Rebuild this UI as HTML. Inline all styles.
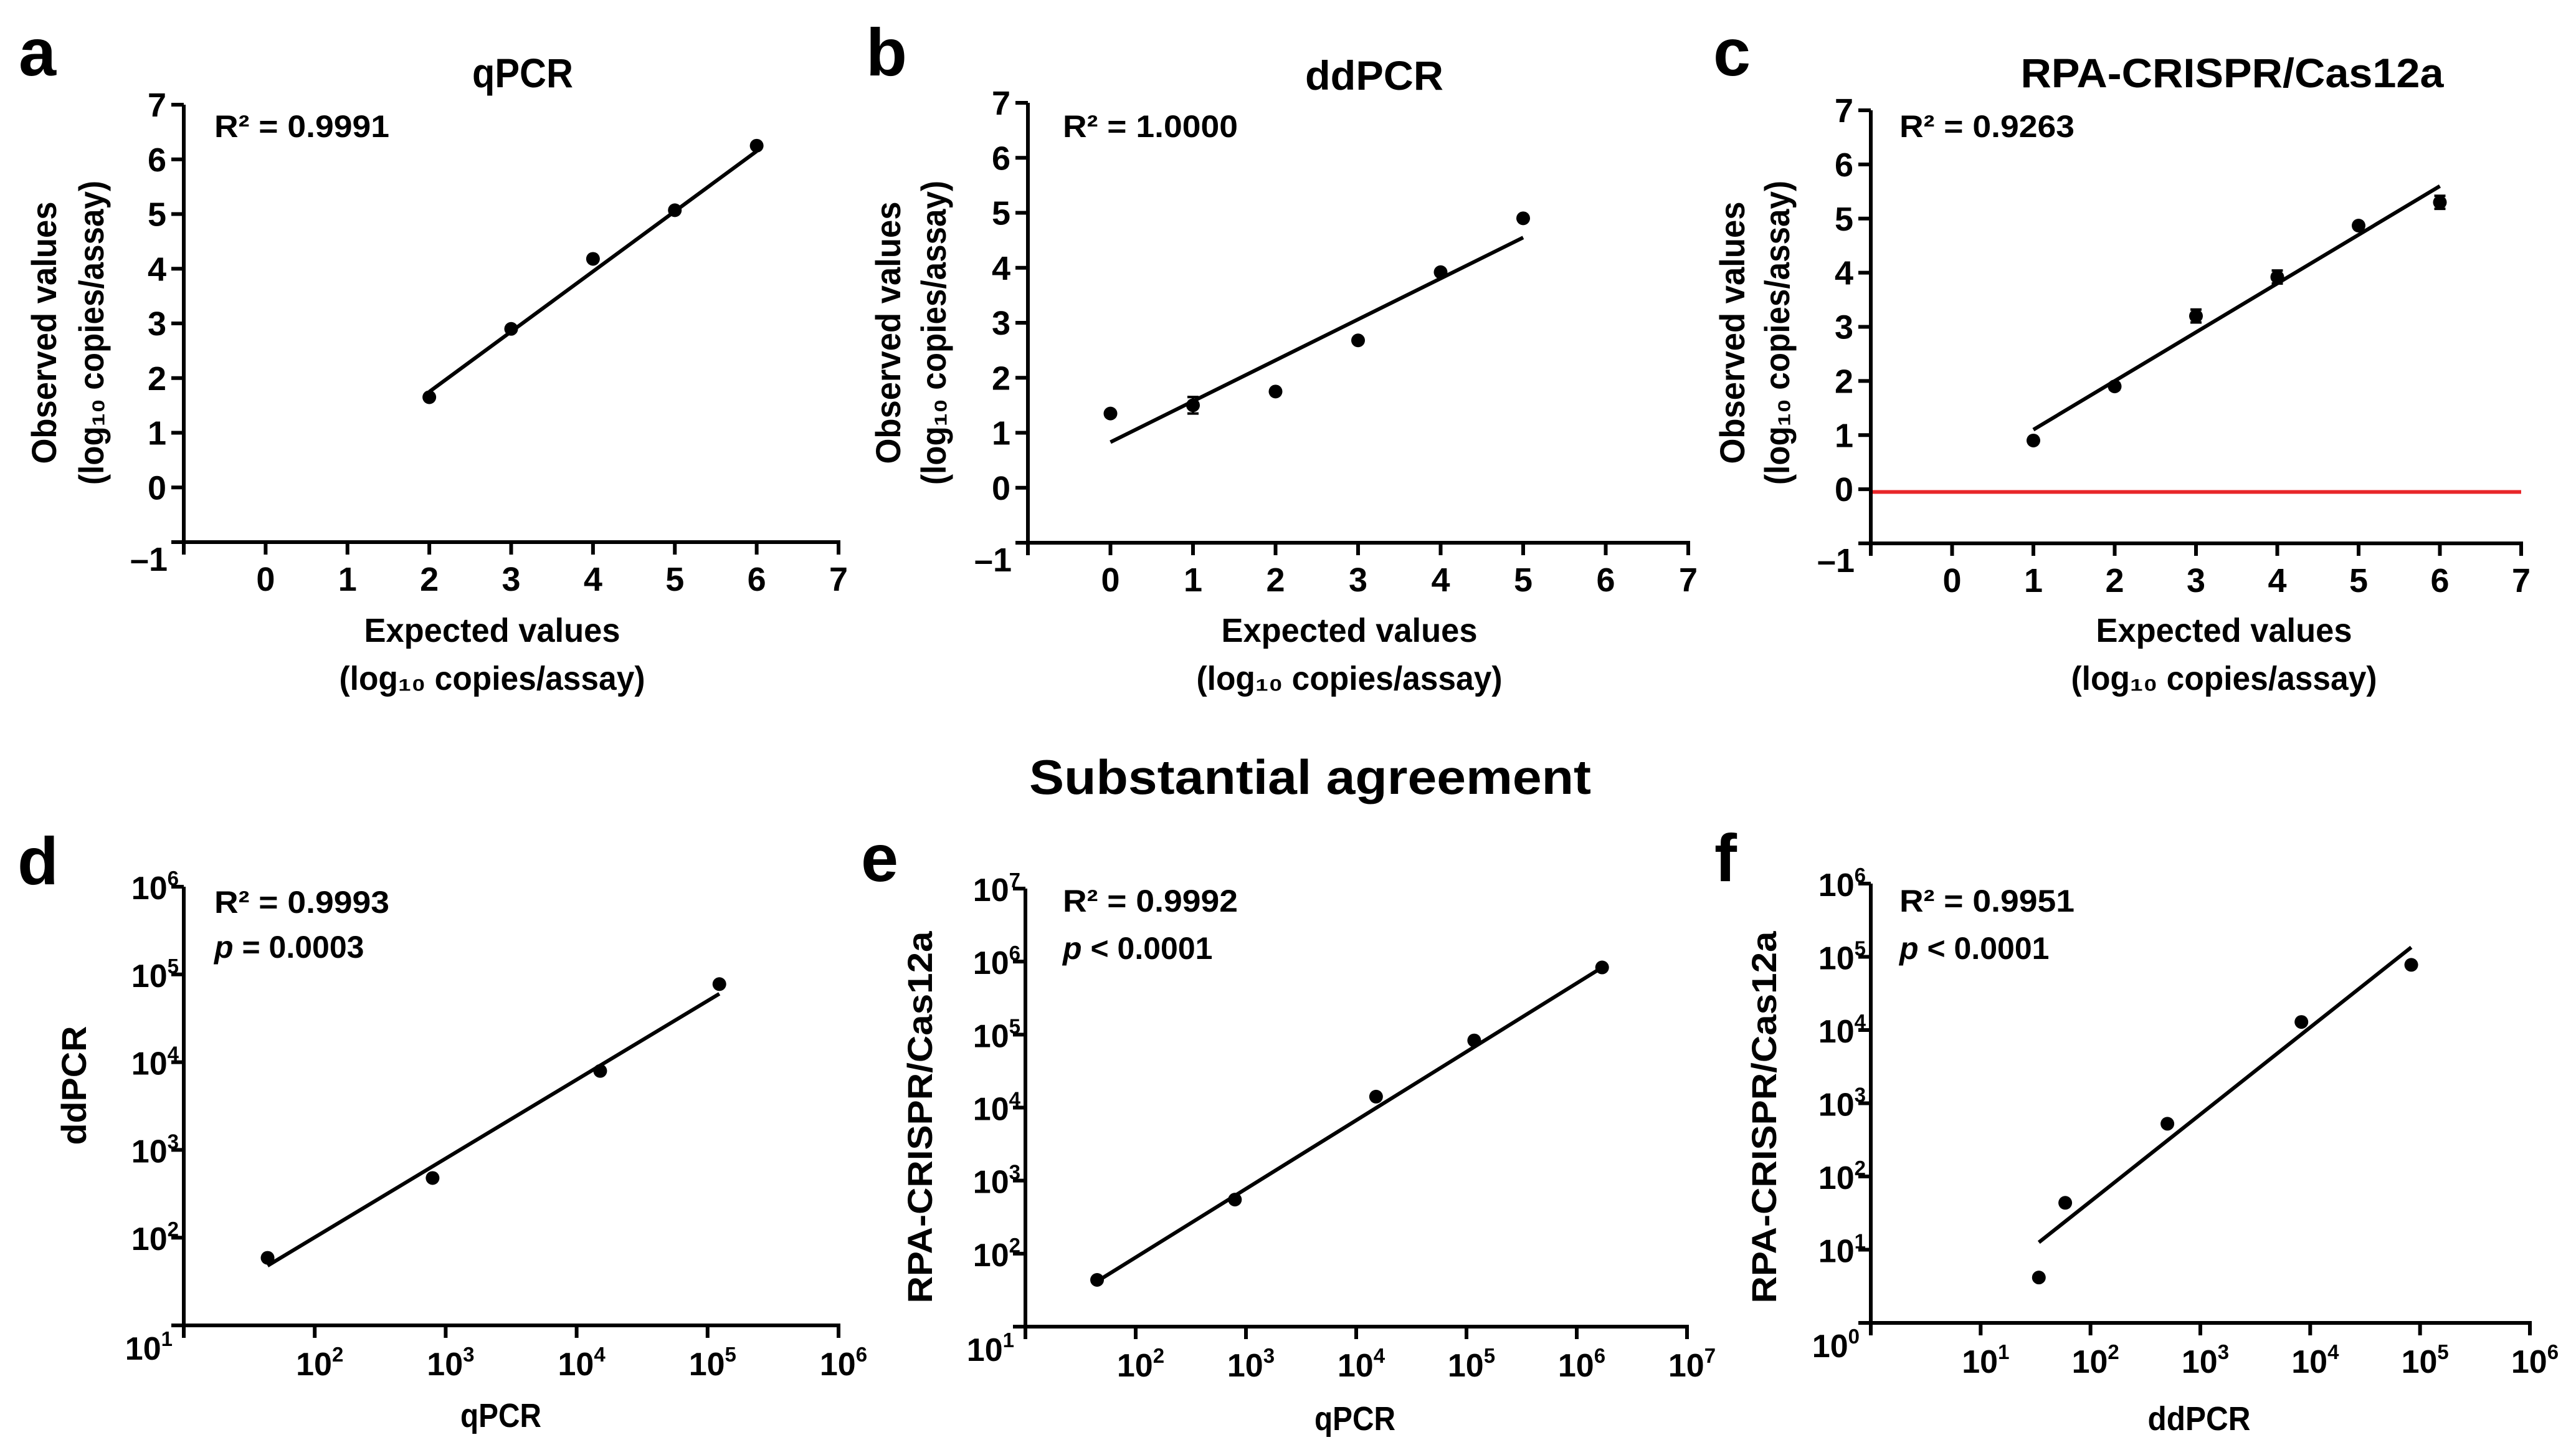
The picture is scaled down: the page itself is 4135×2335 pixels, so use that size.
<!DOCTYPE html>
<html><head><meta charset="utf-8"><style>
html,body{margin:0;padding:0;background:#fff;overflow:hidden;}
svg{display:block;font-family:"Liberation Sans",Arial,sans-serif;font-weight:bold;}
</style></head><body>
<svg id="fig" width="4135" height="2335" viewBox="0 0 4135 2335" xmlns="http://www.w3.org/2000/svg">
<rect width="4135" height="2335" fill="#fff"/>
<g id="static" fill="#000">
<text x="30" y="121" font-size="108">a</text>
<text x="1390" y="121" font-size="108">b</text>
<text x="2750" y="121" font-size="108">c</text>
<text x="28" y="1419" font-size="108">d</text>
<text x="1382" y="1414" font-size="108">e</text>
<text x="2752" y="1414" font-size="108">f</text>
<text x="2103" y="1274" font-size="78" text-anchor="middle" textLength="902" lengthAdjust="spacingAndGlyphs">Substantial agreement</text>
</g>
<g id="charts"></g>
</svg>
<script>
// ---- data ----
const aX = [2, 3, 4, 5, 6];
const aY = [1.65, 2.9, 4.18, 5.07, 6.25];
const aFitX = [2, 6];
const aFitY = [1.75, 6.15];

const bX = [0, 1, 2, 3, 4, 5];
const bY = [1.35, 1.5, 1.75, 2.68, 3.92, 4.9];
const bErr = [0, 0.15, 0, 0, 0.05, 0];
const bFitX = [0, 5];
const bFitY = [0.83, 4.55];

const cX = [1, 2, 3, 4, 5, 6];
const cY = [0.9, 1.9, 3.2, 3.92, 4.87, 5.3];
const cErr = [0, 0.06, 0.12, 0.12, 0.05, 0.12];
const cFitX = [1, 6];
const cFitY = [1.1, 5.6];
const cThreshold = [-0.05];

const dX = [1.64, 2.9, 4.18, 5.09];
const dY = [1.77, 2.68, 3.9, 4.89];
const dFitX = [1.64, 5.09];
const dFitY = [1.68, 4.78];

const eX = [1.65, 2.9, 4.18, 5.07, 6.23];
const eY = [1.64, 2.74, 4.15, 4.92, 5.92];
const eFitX = [1.65, 6.23];
const eFitY = [1.62, 5.92];

const fX = [1.53, 1.77, 2.70, 3.92, 4.92];
const fY = [0.62, 1.64, 2.72, 4.11, 4.89];
const fFitX = [1.53, 4.92];
const fFitY = [1.1, 5.13];

const linTicks = [-1, 0, 1, 2, 3, 4, 5, 6, 7];
const dTicks = [1, 2, 3, 4, 5, 6];
const eTicks = [1, 2, 3, 4, 5, 6, 7];
const fTicks = [0, 1, 2, 3, 4, 5, 6];

const statsA = ["R² = 0.9991"];
const statsB = ["R² = 1.0000"];
const statsC = ["R² = 0.9263"];
const statsD = ["R² = 0.9993", "= 0.0003"];
const statsE = ["R² = 0.9992", "< 0.0001"];
const statsF = ["R² = 0.9951", "< 0.0001"];

const NS = "http://www.w3.org/2000/svg";
const root = document.getElementById("charts");
function mk(tag, attrs, parent) {
  const el = document.createElementNS(NS, tag);
  for (const k in attrs) el.setAttribute(k, attrs[k]);
  (parent || root).appendChild(el);
  return el;
}
function powLabel(parent, attrs, exp) {
  const t = mk("text", attrs, parent);
  const a = mk("tspan", {}, t);
  a.textContent = "10";
  const b = mk("tspan", {"font-size": 33, dy: -22}, t);
  b.textContent = String(exp);
  return t;
}

function panel(cfg) {
  const g = mk("g", {});
  
  
  const sx = v => cfg.x0 + (v - cfg.min) / (cfg.max - cfg.min) * (cfg.x1 - cfg.x0);
  const sy = v => cfg.yBot - (v - cfg.min) / (cfg.max - cfg.min) * (cfg.yBot - cfg.yTop);
  const T = 20, SW = 6;
  const ya = mk("line", {x1: cfg.x0, y1: cfg.yTop, x2: cfg.x0, y2: cfg.yBot + T, stroke: "#000", "stroke-width": SW}, g);
  
  
  const xa = mk("line", {x1: cfg.x0 - T, y1: cfg.yBot, x2: cfg.x1 + SW / 2, y2: cfg.yBot, stroke: "#000", "stroke-width": SW}, g);
  
  
  cfg.ticks.forEach((t, i) => {
    if (i > 0) {
      const tk = mk("line", {x1: cfg.x0 - T, y1: sy(t), x2: cfg.x0, y2: sy(t), stroke: "#000", "stroke-width": SW}, g);
      
      
      const tk2 = mk("line", {x1: sx(t), y1: cfg.yBot, x2: sx(t), y2: cfg.yBot + T, stroke: "#000", "stroke-width": SW}, g);
      
      
    }
    if (!cfg.log) {
      if (i === 0) {
        const c = mk("text", {x: cfg.x0 - 26, y: cfg.yBot + 46, "font-size": 54, "text-anchor": "end"}, g);
        c.textContent = "–1";
        
        
      } else {
        const yl = mk("text", {x: cfg.x0 - 28, y: sy(t) + 19, "font-size": 54, "text-anchor": "end"}, g);
        yl.textContent = String(t);
        
        
        const xl = mk("text", {x: sx(t), y: cfg.yBot + 78, "font-size": 54, "text-anchor": "middle"}, g);
        xl.textContent = String(t);
        
        
      }
    } else {
      if (i === 0) {
        const c = powLabel(g, {x: cfg.x0 - 18, y: cfg.yBot + 55, "font-size": 52, "text-anchor": "end"}, t);
        
        
      } else {
        const yl = powLabel(g, {x: cfg.x0 - 8, y: sy(t) + 20, "font-size": 52, "text-anchor": "end"}, t);
        
        
        const xl = powLabel(g, {x: sx(t) + 8, y: cfg.yBot + 80, "font-size": 52, "text-anchor": "middle"}, t);
        
        
      }
    }
  });
  if (cfg.thr) {
    const r = mk("line", {x1: cfg.x0 + 3, y1: sy(cfg.thr[0]), x2: cfg.x1, y2: sy(cfg.thr[0]), stroke: "#e8262a", "stroke-width": 6}, g);
    
    
  }
  const fl = mk("line", {x1: sx(cfg.fx[0]), y1: sy(cfg.fy[0]), x2: sx(cfg.fx[1]), y2: sy(cfg.fy[1]), stroke: "#000", "stroke-width": 6}, g);
  
  
  cfg.xs.forEach((x, i) => {
    if (cfg.err && cfg.err[i] > 0) {
      const e = cfg.err[i];
      const eb = mk("path", {d: `M${sx(x)},${sy(cfg.ys[i] - e)}V${sy(cfg.ys[i] + e)}M${sx(x) - 9},${sy(cfg.ys[i] - e)}h18M${sx(x) - 9},${sy(cfg.ys[i] + e)}h18`, stroke: "#000", "stroke-width": 4, fill: "none"}, g);
      
      
    }
    const p = mk("circle", {cx: sx(x), cy: sy(cfg.ys[i]), r: 11, fill: "#000"}, g);
    
    
  });
  const s1 = mk("text", {x: cfg.sx, y: cfg.sy, "font-size": 50, textLength: 281, lengthAdjust: "spacingAndGlyphs"}, g);
  s1.textContent = cfg.stats[0];
  
  
  if (cfg.stats.length > 1) {
    const s2 = mk("text", {x: cfg.sx, y: cfg.py, "font-size": 50}, g);
    
    
    const it = mk("tspan", {"font-style": "italic"}, s2);
    it.textContent = "p";
    const rest = mk("tspan", {}, s2);
    rest.textContent = " " + cfg.stats[1];
  }
  if (cfg.title) {
    const t = mk("text", {x: cfg.title[1], y: cfg.title[3], "font-size": 66, "text-anchor": "middle", textLength: cfg.title[2], lengthAdjust: "spacingAndGlyphs"}, g);
    t.textContent = cfg.title[0];
    
    
  }
  cfg.xt.forEach(l => {
    const t = mk("text", {x: l[1], y: l[2], "font-size": 54, "text-anchor": "middle", textLength: l[3], lengthAdjust: "spacingAndGlyphs"}, g);
    t.textContent = l[0];
    
    
  });
  cfg.yt.forEach(l => {
    const t = mk("text", {x: 0, y: 0, "font-size": 56, "text-anchor": "middle", textLength: l[3], lengthAdjust: "spacingAndGlyphs", transform: `translate(${l[1]},${l[2]}) rotate(-90)`}, g);
    t.textContent = l[0];
    
    
  });
}

const yLin = (bx1, bx2) => [["Observed values", bx1, 534, 421], ["(log₁₀ copies/assay)", bx2, 534, 488]];
const xLin = cx => [["Expected values", cx, 1030, 411], ["(log₁₀ copies/assay)", cx, 1107, 491]];

panel({name: "panel-a-qpcr", x0: 295, x1: 1346, yTop: 168, yBot: 870, min: -1, max: 7, ticks: linTicks,
  xs: aX, ys: aY, fx: aFitX, fy: aFitY, stats: statsA, sx: 344, sy: 220,
  title: ["qPCR", 839, 162, 140], xt: xLin(790), yt: yLin(90, 166)});
panel({name: "panel-b-ddpcr", x0: 1650, x1: 2710, yTop: 165, yBot: 871, min: -1, max: 7, ticks: linTicks,
  xs: bX, ys: bY, err: bErr, fx: bFitX, fy: bFitY, stats: statsB, sx: 1706, sy: 220,
  title: ["ddPCR", 2206, 222, 144], xt: xLin(2166), yt: yLin(1445, 1518)});
panel({name: "panel-c-rpa-crispr", x0: 3003, x1: 4047, yTop: 177, yBot: 872, min: -1, max: 7, ticks: linTicks,
  xs: cX, ys: cY, err: cErr, fx: cFitX, fy: cFitY, thr: cThreshold, stats: statsC, sx: 3049, sy: 220,
  title: ["RPA-CRISPR/Cas12a", 3583, 679, 140], xt: xLin(3570), yt: yLin(2800, 2872)});
panel({name: "panel-d-ddpcr-vs-qpcr", log: true, x0: 295, x1: 1346, yTop: 1423, yBot: 2127, min: 1, max: 6, ticks: dTicks,
  xs: dX, ys: dY, fx: dFitX, fy: dFitY, stats: statsD, sx: 344, sy: 1465, py: 1537,
  xt: [["qPCR", 804, 2290, 130]], yt: [["ddPCR", 138, 1742, 191]]});
panel({name: "panel-e-rpa-vs-qpcr", log: true, x0: 1646, x1: 2708, yTop: 1426, yBot: 2129, min: 1, max: 7, ticks: eTicks,
  xs: eX, ys: eY, fx: eFitX, fy: eFitY, stats: statsE, sx: 1706, sy: 1463, py: 1539,
  xt: [["qPCR", 2175, 2295, 130]], yt: [["RPA-CRISPR/Cas12a", 1496, 1793, 597]]});
panel({name: "panel-f-rpa-vs-ddpcr", log: true, x0: 3003, x1: 4061, yTop: 1418, yBot: 2123, min: 0, max: 6, ticks: fTicks,
  xs: fX, ys: fY, fx: fFitX, fy: fFitY, stats: statsF, sx: 3049, sy: 1463, py: 1539,
  xt: [["ddPCR", 3530, 2295, 165]], yt: [["RPA-CRISPR/Cas12a", 2851, 1793, 597]]});
</script>
</body></html>
